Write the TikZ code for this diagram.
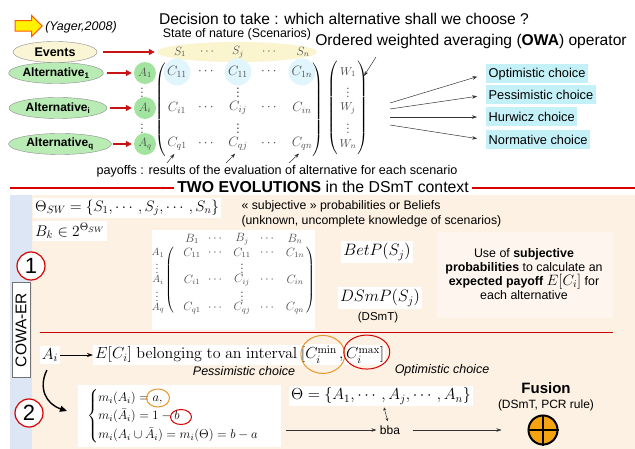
\RequirePackage{fix-cm}
\documentclass[tikz,border=0pt]{standalone}
\usepackage{amssymb}
\usepackage{amsmath}
\usepackage[no-math]{fontspec}
\setmainfont{Liberation Sans}
\usepackage{tikz}
\usetikzlibrary{shapes.geometric,shapes.arrows,arrows.meta}

\definecolor{peach}{HTML}{FDF1E3}
\definecolor{bandblue}{HTML}{DCE6F4}
\definecolor{altgreen}{HTML}{B9EBB4}
\definecolor{agreen}{HTML}{A2E3A0}
\definecolor{cellblue}{HTML}{E0F6FC}
\definecolor{evtyellow}{HTML}{FAF5D4}
\definecolor{natyellow}{HTML}{FAF4CF}
\definecolor{choicecyan}{HTML}{C4F0F8}
\definecolor{darkred}{HTML}{C81414}
\definecolor{fusorange}{HTML}{F5A30F}
\definecolor{ringorange}{HTML}{E8952E}
\definecolor{softpanel}{HTML}{FEF6EE}
\newcommand{\fsz}[1]{\fontsize{#1}{#1}\selectfont}

\begin{document}
\begin{tikzpicture}[x=1pt,y=-1pt,
    evt/.style={ellipse,draw=black!45,fill=evtyellow,inner sep=0pt,minimum height=21pt,font=\fsz{12.5}\bfseries},
    alt/.style={ellipse,draw=black!45,fill=altgreen,inner sep=0pt,minimum height=21pt,font=\fsz{12}\bfseries},
    anode/.style={circle,fill=agreen,minimum size=22pt,inner sep=0pt,font=\fsz{12},text=black!70},
    srow/.style={inner sep=0pt,font=\fsz{12},text=black!70},
    cell/.style={inner sep=0pt,font=\fsz{13.5},text=black!70},
    wcell/.style={inner sep=0pt,font=\fsz{11.5},text=black!70},
    hl/.style={circle,fill=cellblue,minimum size=27pt},
    bcell/.style={inner sep=0pt,font=\fsz{12},text=black!70},
    blabel/.style={inner sep=0pt,font=\fsz{10.5},text=black!70},
    choice/.style={fill=choicecyan,inner sep=2.5pt,minimum height=19pt,anchor=west,font=\fsz{12.8}},
    redarrow/.style={draw=darkred,line width=1.6pt,-{Triangle[length=6pt,width=6pt]}},
    thinarrow/.style={draw=black!80,line width=0.5pt,-{Stealth[length=5pt,width=3.5pt]}},
    blackarrow/.style={draw=black,line width=0.8pt,-{Stealth[length=6pt,width=4pt]}},
    curvearrow/.style={draw=black,line width=1.4pt,-{Triangle[length=7pt,width=6pt]}},
    whitebox/.style={fill=white,inner sep=2pt},
    numcircle/.style={circle,draw=red!85!black,line width=1.2pt,fill=white,minimum size=28pt,inner sep=0pt,font=\fsz{22}},
    sepline/.style={draw=red!85!black,line width=1.4pt},
    ring/.style={ellipse,line width=1pt,inner sep=0pt},
]
\fill[white] (0,0) rectangle (635,449);
\useasboundingbox (0,0) rectangle (635,449);

\node[single arrow,draw=orange!70!red,fill=yellow,line width=1pt,minimum height=27pt,minimum width=21pt,inner xsep=0pt,inner ysep=4.5pt,single arrow head extend=5pt] (yarrow) at (26,26) {};
\node (yager) at (81,27) {\fsz{12.5}\itshape (Yager,2008)};
\node (question) at (344,19) {\fsz{15.6}Decision to take : which alternative shall we choose ?};
\node (nature) at (237,34) {\fsz{12.4}State of nature (Scenarios)};
\node (owa) at (471,41) {\fsz{15.6}Ordered weighted averaging (\textbf{OWA}) operator};

\node[ellipse,fill=natyellow,minimum width=160pt,minimum height=20pt,inner sep=0pt] (natrow) at (237,52) {};
\node[srow] (s1) at (180,52) {$S_1$};
\node[srow] (sd1) at (208,52) {$\cdots$};
\node[srow] (sj) at (238,52) {$S_j$};
\node[srow] (sd2) at (270,52) {$\cdots$};
\node[srow] (sn) at (303,52) {$S_n$};

\node[evt,minimum width=84pt] (events) at (55,52) {Events};
\node[alt,minimum width=94pt] (alt1) at (56,73) {Alternative\textsubscript{1}};
\node[alt,minimum width=98pt] (alti) at (58,108) {Alternative\textsubscript{i}};
\node[alt,minimum width=103pt] (altq) at (60,144) {Alternative\textsubscript{q}};

\node[anode] (a1) at (145,73) {$A_1$};
\node[srow] (av1) at (142,90) {$\vdots$};
\node[anode] (ai) at (145,108) {$A_i$};
\node[srow] (av2) at (142,126) {$\vdots$};
\node[anode] (aq) at (145,144) {$A_q$};

\draw[redarrow,shorten <=6pt,shorten >=2pt] (events) -- (natrow);
\draw[redarrow,shorten <=3pt,shorten >=2pt] (alt1) -- (a1);
\draw[redarrow,shorten <=3pt,shorten >=2pt] (alti) -- (ai);
\draw[redarrow,shorten <=1pt,shorten >=2pt] (altq) -- (aq);

\node (lpar) at (161,110) {\fsz{12}$\left(\vrule height 45pt depth 45pt width 0pt\right.$};
\node (rpar) at (317,110) {\fsz{12}$\left.\vrule height 45pt depth 45pt width 0pt\right)$};
\node[cell,hl] (c11) at (177,72) {$C_{11}$};
\node[cell] (cd11) at (207,72) {$\cdots$};
\node[cell,hl] (c1j) at (238,72) {$C_{11}$};
\node[cell] (cd12) at (270,72) {$\cdots$};
\node[cell,hl] (c1n) at (302,72) {$C_{1n}$};
\node[cell] (cv1) at (238,90) {$\vdots$};
\node[cell] (ci1) at (177,108) {$C_{i1}$};
\node[cell] (cdi1) at (207,108) {$\cdots$};
\node[cell] (cij) at (238,108) {$C_{ij}$};
\node[cell] (cdi2) at (270,108) {$\cdots$};
\node[cell] (cin) at (302,108) {$C_{in}$};
\node[cell] (cv2) at (238,126) {$\vdots$};
\node[cell] (cq1) at (177,144) {$C_{q1}$};
\node[cell] (cdq1) at (207,144) {$\cdots$};
\node[cell] (cqj) at (238,144) {$C_{qj}$};
\node[cell] (cdq2) at (270,144) {$\cdots$};
\node[cell] (cqn) at (302,144) {$C_{qn}$};

\node (wl) at (333,108) {\fsz{12}$\left(\vrule height 43pt depth 43pt width 0pt\right.$};
\node (wr) at (362,108) {\fsz{12}$\left.\vrule height 43pt depth 43pt width 0pt\right)$};
\node[wcell] (w1) at (348,72) {$W_1$};
\node[wcell] (wv1) at (348,90) {$\vdots$};
\node[wcell] (wj) at (348,108) {$W_j$};
\node[wcell] (wv2) at (348,126) {$\vdots$};
\node[wcell] (wn) at (348,144) {$W_n$};

\coordinate (owafoot) at (376,57);
\coordinate (owatip) at (364,76);
\draw[thinarrow] (owafoot) -- (owatip);

\node[choice] (optc) at (486,74) {Optimistic choice};
\node[choice] (pesc) at (486,95) {Pessimistic choice};
\node[choice] (hurc) at (486,117) {Hurwicz choice};
\node[choice] (norc) at (486,140) {Normative choice};
\coordinate (fan1) at (390,103);
\coordinate (fan2) at (390,109);
\coordinate (fan3) at (390,117);
\coordinate (fan4) at (390,125);
\draw[thinarrow,shorten >=9pt] (fan1) -- (optc.west);
\draw[thinarrow,shorten >=9pt] (fan2) -- (pesc.west);
\draw[thinarrow,shorten >=9pt] (fan3) -- (hurc.west);
\draw[thinarrow,shorten >=9pt] (fan4) -- (norc.west);

\coordinate (pay1) at (167,163);
\coordinate (pay2) at (226,163);
\coordinate (pay3) at (289,163);
\draw[thinarrow,shorten >=4pt] (pay1) -- (cq1.south);
\draw[thinarrow,shorten >=4pt] (pay2) -- (cqj.south);
\draw[thinarrow,shorten >=4pt] (pay3) -- (cqn.south);
\node (payoffs) at (277,171) {\fsz{12.6}payoffs : results of the evaluation of alternative for each scenario};

\fill[peach] (32,195) rectangle (635,449);
\fill[bandblue] (10,195) rectangle (32,449);
\node (evol) at (323,187) {\fsz{15.8}\textbf{TWO EVOLUTIONS} in the DSmT context};
\coordinate (sepl) at (10,188);
\coordinate (sepr) at (635,188);
\draw[sepline] (sepl) -- (evol.west |- sepl);
\draw[sepline] (evol.east |- sepr) -- (sepr);

\node[draw=black!55,fill=white,rotate=90,inner sep=1pt,minimum width=95pt,minimum height=18pt,font=\fsz{15.5}] (cowa) at (21,330) {COWA-ER};
\node[numcircle] (one) at (31,266) {1};
\node[numcircle] (two) at (29,413) {2};

\node[whitebox,anchor=west] (thetasw) at (33,208) {\fsz{15.2}$\Theta_{SW}=\{S_1,\cdots,S_j,\cdots,S_n\}$};
\node[whitebox,anchor=west] (bk) at (33,231) {\fsz{15.5}$B_k\in 2^{\Theta_{SW}}$};
\node[anchor=west,align=left,font=\fontsize{12.3}{15}\selectfont] (subj) at (238,214) {« subjective » probabilities or Beliefs\\(unknown, uncomplete knowledge of scenarios)};

\node[fill=white,minimum width=163pt,minimum height=100pt] (bmat) at (233,280) {};
\node[bcell] (b1) at (192,239) {$B_1$};
\node[bcell] (bd1) at (216,239) {$\cdots$};
\node[bcell] (bj) at (242,239) {$B_j$};
\node[bcell] (bd2) at (268,239) {$\cdots$};
\node[bcell] (bn) at (295,239) {$B_n$};
\node[blabel] (la1) at (158,253) {$A_1$};
\node[blabel] (lv1) at (157,266) {$\vdots$};
\node[blabel] (lai) at (158,280) {$A_i$};
\node[blabel] (lv2) at (157,294) {$\vdots$};
\node[blabel] (laq) at (158,308) {$A_q$};
\node (blpar) at (170,281) {\fsz{10}$\left(\vrule height 32pt depth 32pt width 0pt\right.$};
\node (brpar) at (310,281) {\fsz{10}$\left.\vrule height 32pt depth 32pt width 0pt\right)$};
\node[bcell] (d11) at (192,253) {$C_{11}$};
\node[bcell] (dd11) at (216,253) {$\cdots$};
\node[bcell] (d1j) at (242,253) {$C_{11}$};
\node[bcell] (dd12) at (268,253) {$\cdots$};
\node[bcell] (d1n) at (295,253) {$C_{1n}$};
\node[bcell] (dv1) at (242,266) {$\vdots$};
\node[bcell] (di1) at (192,280) {$C_{i1}$};
\node[bcell] (ddi1) at (216,280) {$\cdots$};
\node[bcell] (dij) at (242,280) {$C_{ij}$};
\node[bcell] (ddi2) at (268,280) {$\cdots$};
\node[bcell] (din) at (295,280) {$C_{in}$};
\node[bcell] (dv2) at (242,294) {$\vdots$};
\node[bcell] (dq1) at (192,308) {$C_{q1}$};
\node[bcell] (ddq1) at (216,308) {$\cdots$};
\node[bcell] (dqj) at (242,308) {$C_{qj}$};
\node[bcell] (ddq2) at (268,308) {$\cdots$};
\node[bcell] (dqn) at (295,308) {$C_{qn}$};

\node[whitebox] (betp) at (377,252) {\fsz{16.5}$BetP(S_j)$};
\node[whitebox] (dsmp) at (380,298) {\fsz{16.5}$DSmP(S_j)$};
\node (dsmt) at (378,318) {\fsz{11.5}(DSmT)};
\node[fill=softpanel,minimum width=176pt,minimum height=86pt] (usepanel) at (525,275) {};
\node[align=center,font=\fontsize{12.4}{14}\selectfont] (usesubj) at (524,274) {Use of \textbf{subjective}\\\textbf{probabilities} to calculate an\\\textbf{expected payoff} {\fsz{15}$E[C_i]$} for\\each alternative};

\coordinate (midl) at (40,332);
\coordinate (midr) at (613,332);
\draw[draw=red!80!black,line width=0.7pt] (midl) -- (midr);

\node[whitebox] (aiexp) at (50,355) {\fsz{16}$A_i$};
\node[whitebox,anchor=base west] (expect) at (93,359) {\fsz{16}$E[C_i]\ \mathrm{belonging\ to\ an\ interval}$};
\node[whitebox,anchor=base west,inner xsep=1pt] (cmin) at (expect.base east) {\fsz{16}$[C_i^{\min}$};
\node[whitebox,anchor=base west,inner xsep=1pt] (cmax) at (cmin.base east) {\fsz{16}$,C_i^{\max}]$};
\draw[blackarrow] (aiexp) -- (expect);
\node[ring,draw=ringorange,minimum width=44pt,minimum height=38pt] (pessring) at ([xshift=4pt]cmin.center) {};
\node[ring,draw=red!85!black,minimum width=46pt,minimum height=34pt] (optring) at ([xshift=5pt,yshift=3pt]cmax.center) {};
\node (pessc) at (244,371) {\fsz{12.5}\itshape Pessimistic choice};
\node (optic) at (442,370) {\fsz{12.5}\itshape Optimistic choice};

\node[whitebox,anchor=west,inner xsep=9pt,inner ysep=3pt] (cases) at (78,416) {\fontsize{12.7}{15.5}\selectfont$\begin{cases} m_i(A_i)=a,\\ m_i(\bar{A}_i)=1-b\\ m_i(A_i\cup\bar{A}_i)=m_i(\Theta)=b-a\end{cases}$};
\node[ring,draw=ringorange,minimum width=23pt,minimum height=18pt] (aring) at (158,398) {};
\node[ring,draw=red!85!black,minimum width=21pt,minimum height=15pt] (bring) at (181,417) {};
\coordinate (bendtip) at (67,411);
\draw[curvearrow,shorten <=7pt] (aiexp.south) .. controls (38,388) and (46,404) .. (bendtip);

\node[whitebox] (thetaA) at (381,396) {\fsz{16}$\Theta=\{A_1,\cdots,A_j,\cdots,A_n\}$};
\node (bba) at (390,430) {\fsz{12}bba};
\draw[draw=black!80,line width=0.5pt,{Stealth[length=3pt,width=3pt]}-{Stealth[length=3pt,width=3pt]},shorten <=1pt,shorten >=1pt] (thetaA) -- (bba);
\draw[thinarrow,shorten <=5pt] (cases.east |- bba) -- (bba);

\node (fusion) at (546,388) {\fsz{15}\bfseries Fusion};
\node (fusrule) at (546,405) {\fsz{12}(DSmT, PCR rule)};
\node[circle,draw=black,line width=2pt,fill=fusorange,minimum size=29pt,inner sep=0pt] (fuscircle) at (543,430) {};
\draw[line width=2pt] (fuscircle.north) -- (fuscircle.south);
\draw[line width=2pt] (fuscircle.west) -- (fuscircle.east);
\draw[thinarrow,shorten <=9pt,shorten >=26pt] (bba) -- (fuscircle);
\end{tikzpicture}
\end{document}
